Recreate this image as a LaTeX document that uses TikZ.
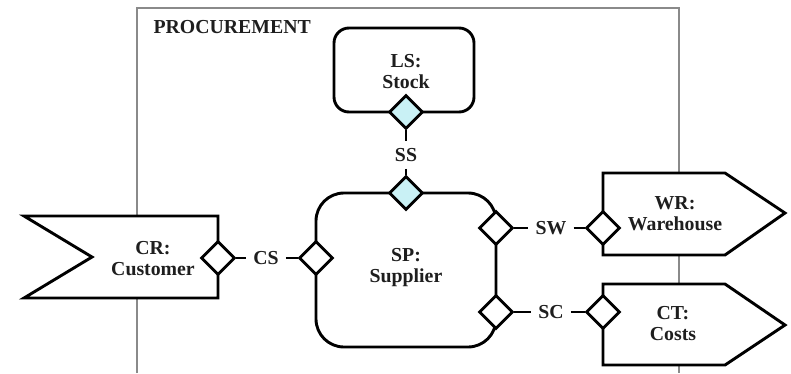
\documentclass[tikz,border=0pt]{standalone}
\usepackage{fontspec}
\setmainfont{Liberation Serif}
\usetikzlibrary{shapes.geometric}
\definecolor{portfill}{HTML}{C9F1F5}
\definecolor{txt}{HTML}{1E1E1E}
\definecolor{framegray}{HTML}{8A8A8A}
\tikzset{
  ln/.style={line width=2.9pt, draw=black},
  port/.style={diamond, aspect=1, minimum width=34pt, minimum height=34pt, inner sep=0pt, ln, fill=white},
  cport/.style={port, fill=portfill},
  lbl/.style={font=\fontsize{19.8}{21}\selectfont\bfseries, text=txt, align=center},
  conlbl/.style={lbl, inner sep=7pt},
  rbox/.style={rectangle, ln, fill=white},
}
\begin{document}
\begin{tikzpicture}[x=1pt,y=-1pt]
\useasboundingbox (0,0) rectangle (791,373);
% frame
\draw[framegray, line width=1.6pt] (137,373) -- (137,8) -- (679,8) -- (679,373);
\node[lbl, anchor=base west] (proc) at (150,33) {PROCUREMENT};
% LS box
\node[rbox, rounded corners=15pt, minimum width=140pt, minimum height=84pt] (ls) at (404,70) {};
\node[lbl] (lst) at (406,72) {LS:\\Stock};
% SP box
\node[rbox, rounded corners=28pt, minimum width=180pt, minimum height=154pt] (sp) at (406,270) {};
\node[lbl] (spt) at (406,268) {SP:\\Supplier};
% CR shape
\draw[ln, fill=white] (24,216) -- (218,216) -- (218,298) -- (24,298) -- (92,257) -- cycle;
\node[lbl] (cr) at (153,259) {CR:\\Customer};
% WR shape
\draw[ln, fill=white] (603,173) -- (725,173) -- (785,213) -- (725,255) -- (603,255) -- cycle;
\node[lbl] (wr) at (675,214) {WR:\\Warehouse};
% CT shape
\draw[ln, fill=white] (603,284) -- (725,284) -- (785,325) -- (725,365) -- (603,365) -- cycle;
\node[lbl] (ct) at (673,324) {CT:\\Costs};
% ports
\node[cport] (dls) at (406,112) {};
\node[cport] (dspt) at (406,193) {};
\node[port] (dspl) at (316,258) {};
\node[port] (dspr1) at (496,228) {};
\node[port] (dspr2) at (496,312) {};
\node[port] (dcr) at (218,258) {};
\node[port] (dwr) at (603,228) {};
\node[port] (dct) at (603,312) {};
% connector labels
\node[conlbl] (ss) at (406,155) {SS};
\node[conlbl] (cs) at (266,258) {CS};
\node[conlbl] (sw) at (551,228) {SW};
\node[conlbl] (sc) at (551,312) {SC};
% connectors
\draw[ln] (dls.south) -- (ss.north);
\draw[ln] (ss.south) -- (dspt.north);
\draw[ln] (dcr.east) -- (cs.west);
\draw[ln] (cs.east) -- (dspl.west);
\draw[ln] (dspr1.east) -- (sw.west);
\draw[ln] (sw.east) -- (dwr.west);
\draw[ln] (dspr2.east) -- (sc.west);
\draw[ln] (sc.east) -- (dct.west);
\end{tikzpicture}
\end{document}
